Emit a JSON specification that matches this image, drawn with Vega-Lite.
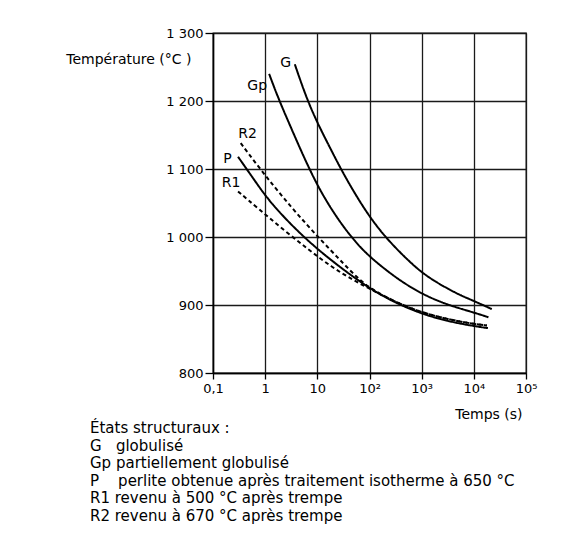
{
  "$schema": "https://vega.github.io/schema/vega-lite/v6.json",
  "width": 313,
  "height": 340,
  "autosize": {"type": "none"},
  "padding": {"left": 213, "top": 33, "right": 48, "bottom": 167},
  "background": "white",
  "config": {
    "font": "DejaVu Sans",
    "view": {"stroke": "#1a1a1a", "strokeWidth": 1.3},
    "axis": {
      "grid": true,
      "gridColor": "#1a1a1a",
      "gridWidth": 1.3,
      "gridOpacity": 1,
      "domainColor": "black",
      "domainWidth": 1.5,
      "tickColor": "black",
      "tickWidth": 1.3,
      "labelColor": "black",
      "labelFont": "DejaVu Sans",
      "labelFontSize": 13,
      "titleColor": "black",
      "titleFont": "DejaVu Sans",
      "titleFontSize": 14,
      "titleFontWeight": "normal"
    }
  },
  "title": {
    "text": [
      "États structuraux :",
      "G\u00a0\u00a0\u00a0globulisé",
      "Gp\u00a0partiellement globulisé",
      "P\u00a0\u00a0\u00a0\u00a0perlite obtenue après traitement isotherme à 650 °C",
      "R1\u00a0revenu à 500 °C après trempe",
      "R2\u00a0revenu à 670 °C après trempe"
    ],
    "orient": "bottom",
    "anchor": "start",
    "frame": "group",
    "align": "left",
    "baseline": "top",
    "dx": -123,
    "offset": 0,
    "font": "DejaVu Sans",
    "fontSize": 15,
    "fontWeight": "normal",
    "lineHeight": 17.6,
    "color": "black"
  },
  "datasets": {
    "curves": [
      {"curve": "G", "t": 3.70, "T": 1254},
      {"curve": "G", "t": 6.21, "T": 1204},
      {"curve": "G", "t": 10, "T": 1168},
      {"curve": "G", "t": 17.8, "T": 1130},
      {"curve": "G", "t": 31.6, "T": 1093},
      {"curve": "G", "t": 56.2, "T": 1060},
      {"curve": "G", "t": 100, "T": 1030},
      {"curve": "G", "t": 178, "T": 1005},
      {"curve": "G", "t": 316, "T": 984},
      {"curve": "G", "t": 562, "T": 965},
      {"curve": "G", "t": 1000, "T": 948},
      {"curve": "G", "t": 1778, "T": 935},
      {"curve": "G", "t": 3162, "T": 924},
      {"curve": "G", "t": 5623, "T": 914},
      {"curve": "G", "t": 10000, "T": 906},
      {"curve": "G", "t": 22080, "T": 894},
      {"curve": "Gp", "t": 1.19, "T": 1240},
      {"curve": "Gp", "t": 1.78, "T": 1204},
      {"curve": "Gp", "t": 3.16, "T": 1160},
      {"curve": "Gp", "t": 5.62, "T": 1116},
      {"curve": "Gp", "t": 10, "T": 1076},
      {"curve": "Gp", "t": 17.8, "T": 1043},
      {"curve": "Gp", "t": 31.6, "T": 1015},
      {"curve": "Gp", "t": 56.2, "T": 991},
      {"curve": "Gp", "t": 100, "T": 971},
      {"curve": "Gp", "t": 316, "T": 940},
      {"curve": "Gp", "t": 1000, "T": 916},
      {"curve": "Gp", "t": 3162, "T": 900},
      {"curve": "Gp", "t": 10000, "T": 889},
      {"curve": "Gp", "t": 19050, "T": 882},
      {"curve": "P", "t": 0.302, "T": 1118},
      {"curve": "P", "t": 0.631, "T": 1083},
      {"curve": "P", "t": 1.26, "T": 1050},
      {"curve": "P", "t": 5.01, "T": 1002},
      {"curve": "P", "t": 20.0, "T": 963},
      {"curve": "P", "t": 100, "T": 924},
      {"curve": "P", "t": 316, "T": 903},
      {"curve": "P", "t": 1000, "T": 887},
      {"curve": "P", "t": 3162, "T": 876},
      {"curve": "P", "t": 10000, "T": 869},
      {"curve": "P", "t": 18620, "T": 866},
      {"curve": "R1", "t": 0.302, "T": 1067},
      {"curve": "R1", "t": 0.731, "T": 1042},
      {"curve": "R1", "t": 2.21, "T": 1011},
      {"curve": "R1", "t": 6.65, "T": 982},
      {"curve": "R1", "t": 18.7, "T": 956},
      {"curve": "R1", "t": 45.3, "T": 938},
      {"curve": "R1", "t": 100, "T": 924},
      {"curve": "R1", "t": 316, "T": 904},
      {"curve": "R1", "t": 1000, "T": 889},
      {"curve": "R1", "t": 3162, "T": 879},
      {"curve": "R1", "t": 10000, "T": 872},
      {"curve": "R1", "t": 17780, "T": 870},
      {"curve": "R2", "t": 0.340, "T": 1138},
      {"curve": "R2", "t": 0.731, "T": 1104},
      {"curve": "R2", "t": 1.53, "T": 1073},
      {"curve": "R2", "t": 3.16, "T": 1044},
      {"curve": "R2", "t": 6.31, "T": 1018},
      {"curve": "R2", "t": 12.6, "T": 993},
      {"curve": "R2", "t": 25.1, "T": 969},
      {"curve": "R2", "t": 39.8, "T": 953},
      {"curve": "R2", "t": 63.1, "T": 938},
      {"curve": "R2", "t": 100, "T": 925},
      {"curve": "R2", "t": 316, "T": 904},
      {"curve": "R2", "t": 1000, "T": 889},
      {"curve": "R2", "t": 3162, "T": 879},
      {"curve": "R2", "t": 10000, "T": 872},
      {"curve": "R2", "t": 17780, "T": 870}
    ],
    "labels": [
      {"curve": "G", "t": 2.47, "T": 1256},
      {"curve": "Gp", "t": 0.705, "T": 1222},
      {"curve": "R2", "t": 0.459, "T": 1152},
      {"curve": "P", "t": 0.19, "T": 1115},
      {"curve": "R1", "t": 0.221, "T": 1080}
    ]
  },
  "layer": [
    {
      "data": {"name": "curves"},
      "mark": {"type": "line", "interpolate": "basis", "strokeWidth": 2, "color": "black"},
      "encoding": {
        "x": {
          "field": "t",
          "type": "quantitative",
          "scale": {"type": "log", "domain": [0.1, 100000], "nice": false},
          "axis": {
            "values": [0.1, 1, 10, 100, 1000, 10000, 100000],
            "labelExpr": "datum.value < 0.5 ? '0,1' : datum.value < 5 ? '1' : datum.value < 50 ? '10' : datum.value < 500 ? '10²' : datum.value < 5000 ? '10³' : datum.value < 50000 ? '10⁴' : '10⁵'",
            "title": "Temps (s)",
            "titleX": 309,
            "titleY": 41,
            "titleAlign": "right",
            "titleBaseline": "middle",
            "tickSize": 6,
            "labelPadding": 3,
            "labelFlush": false,
            "labelOverlap": false
          }
        },
        "y": {
          "field": "T",
          "type": "quantitative",
          "scale": {"domain": [800, 1300], "nice": false, "zero": false},
          "axis": {
            "values": [800, 900, 1000, 1100, 1200, 1300],
            "labelExpr": "replace(format(datum.value, ','), ',', ' ')",
            "title": "Température (°C )",
            "titleAngle": 0,
            "titleAlign": "right",
            "titleBaseline": "middle",
            "titleX": -22,
            "titleY": 26,
            "tickSize": 8,
            "labelPadding": 2,
            "labelOverlap": false
          }
        },
        "detail": {"field": "curve"},
        "strokeDash": {
          "field": "curve",
          "type": "nominal",
          "scale": {"domain": ["G", "Gp", "P", "R1", "R2"], "range": [[1, 0], [1, 0], [1, 0], [4, 3], [4, 3]]},
          "legend": null
        }
      }
    },
    {
      "data": {"name": "labels"},
      "mark": {"type": "text", "font": "DejaVu Sans", "fontSize": 14, "color": "black", "align": "center", "baseline": "middle"},
      "encoding": {
        "x": {"field": "t", "type": "quantitative"},
        "y": {"field": "T", "type": "quantitative"},
        "text": {"field": "curve"}
      }
    }
  ]
}
